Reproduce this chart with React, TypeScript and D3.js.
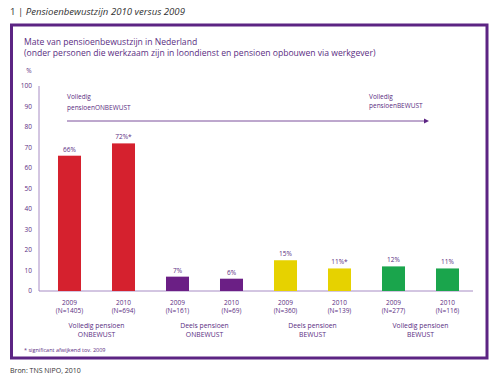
import React from "react";
import * as d3 from "d3";

const years = ["2009", "2010", "2009", "2010", "2009", "2010", "2009", "2010"];
const nLabels = ["(N=1405)", "(N=694)", "(N=161)", "(N=69)", "(N=360)", "(N=139)", "(N=277)", "(N=116)"];
const values = [66, 72, 7, 6, 15, 11, 12, 11];
const valueLabels = ["66%", "72%*", "7%", "6%", "15%", "11%*", "12%", "11%"];
const groups = [
  ["Volledig pensioen", "ONBEWUST"],
  ["Deels pensioen", "ONBEWUST"],
  ["Deels pensioen", "BEWUST"],
  ["Volledig pensioen", "BEWUST"],
];
const groupColors = ["#d5212e", "#6b1f85", "#e6d200", "#1aa54c"];
const yTicks = [0, 10, 20, 30, 40, 50, 60, 70, 80, 90, 100];

const W = 500, H = 378;
const PURPLE = "#5c2483";
const TXT = "#5a2d82";
const AXIS = "#a78cc4";
const FONT = "'Open Sans', 'Noto Sans', sans-serif";

export default function App() {
  const idx = values.map((_, i) => String(i));
  const x = d3.scaleBand().domain(idx).range([42.5, 474.5]).paddingInner(0.574).paddingOuter(0.287);
  const y = d3.scaleLinear().domain([0, 100]).range([291, 86]);
  const bw = x.bandwidth();
  return (
    <svg width={W} height={H} style={{ position: "absolute", left: 0, top: 0, background: "#fff" }} fontFamily={FONT}>
      <text x={10} y={15} fontSize={9.6} fill="#333">
        1 |{" "}
        <tspan fontStyle="italic">Pensioenbewustzijn 2010 versus 2009</tspan>
      </text>
      <rect x={11.5} y={25} width={475.5} height={333} fill="none" stroke={PURPLE} strokeWidth={3} />
      <text x={24} y={45} fontSize={8.6} fill={TXT}>Mate van pensioenbewustzijn in Nederland</text>
      <text x={24} y={56} fontSize={8.6} fill={TXT}>(onder personen die werkzaam zijn in loondienst en pensioen opbouwen via werkgever)</text>
      <text x={29} y={73} fontSize={6.5} fill={TXT} textAnchor="middle">%</text>

      {yTicks.map((t) => (
        <text key={t} x={32} y={y(t) + 2.3} fontSize={6.5} fill={TXT} textAnchor="end">{t}</text>
      ))}
      <line x1={39} x2={39} y1={y(100)} y2={y(0)} stroke={AXIS} strokeWidth={1} />
      <line x1={39} x2={473} y1={y(0)} y2={y(0)} stroke={AXIS} strokeWidth={1} />

      <line x1={67} x2={425} y1={121} y2={121} stroke={PURPLE} strokeWidth={0.8} />
      <path d="M424,118.5 L429,121 L424,123.5 Z" fill={PURPLE} />
      <text x={67} y={99} fontSize={6.5} fill={TXT}>Volledig</text>
      <text x={67} y={110} fontSize={6.5} fill={TXT}>pensioenONBEWUST</text>
      <text x={369} y={99} fontSize={6.5} fill={TXT}>Volledig</text>
      <text x={369} y={108} fontSize={6.5} fill={TXT}>pensioenBEWUST</text>

      {values.map((v, i) => {
        const cx = (x(String(i)) as number) + bw / 2;
        return (
          <g key={i}>
            <rect x={x(String(i))} y={y(v)} width={bw} height={y(0) - y(v)} fill={groupColors[Math.floor(i / 2)]} />
            <text x={cx} y={y(v) - 4} fontSize={6.5} fill={TXT} textAnchor="middle">{valueLabels[i]}</text>
            <text x={cx} y={305} fontSize={6.5} fill={TXT} textAnchor="middle">{years[i]}</text>
            <text x={cx} y={313} fontSize={6.5} fill={TXT} textAnchor="middle">{nLabels[i]}</text>
          </g>
        );
      })}
      {groups.map((g, k) => {
        const cx = ((x(String(2 * k)) as number) + (x(String(2 * k + 1)) as number) + bw) / 2;
        return (
          <g key={k}>
            <text x={cx} y={328} fontSize={6.8} fill={TXT} textAnchor="middle">{g[0]}</text>
            <text x={cx} y={337} fontSize={6.8} fill={TXT} textAnchor="middle">{g[1]}</text>
          </g>
        );
      })}
      <text x={24} y={352} fontSize={5.5} fill={TXT}>* significant afwijkend tov. 2009</text>
      <text x={10} y={373} fontSize={7} fill="#333">Bron: TNS NIPO, 2010</text>
    </svg>
  );
}
